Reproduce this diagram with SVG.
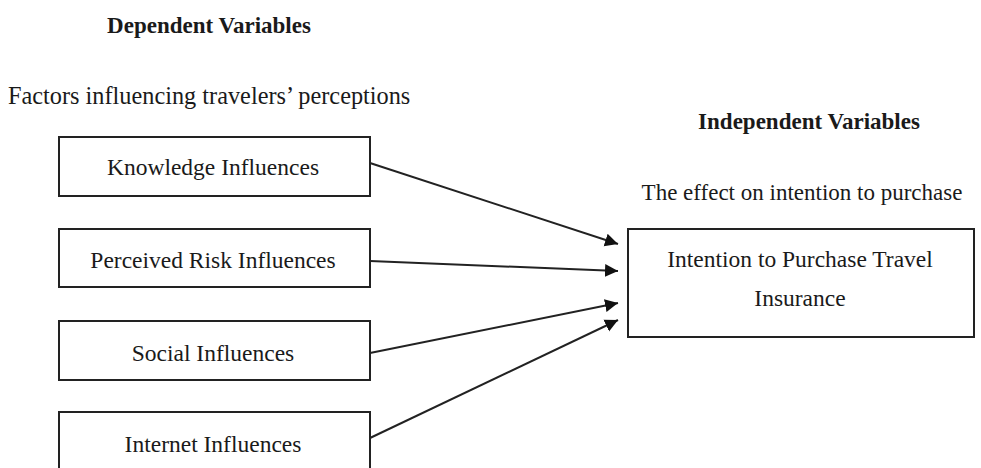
<svg xmlns="http://www.w3.org/2000/svg" width="981" height="468" viewBox="0 0 981 468">
<style>
  .box { fill: #ffffff; stroke: #222222; stroke-width: 2; }
  .t { font-family: "Liberation Serif", "Times New Roman", serif; font-size: 23.5px; fill: #1a1a1a; }
  .b { font-weight: bold; font-size: 23px; }
  .c { text-anchor: middle; }
  .conn { stroke: #222222; stroke-width: 2; fill: none; }
</style>
<defs>
  <marker id="arr" markerUnits="userSpaceOnUse" markerWidth="14" markerHeight="14" refX="13" refY="7" orient="auto">
    <path d="M0,0.5 L13,7 L0,13.5 Z" fill="#111111"/>
  </marker>
</defs>
<rect width="981" height="468" fill="#ffffff"/>
<g id="headers">
  <text class="t b c" x="209" y="33">Dependent Variables</text>
  <text class="t" x="8" y="104" style="font-size:24.3px">Factors influencing travelers’ perceptions</text>
  <text class="t b c" x="809" y="129">Independent Variables</text>
  <text class="t c" x="802" y="200" style="font-size:23px">The effect on intention to purchase</text>
</g>
<g id="connectors">
  <line class="conn" x1="370" y1="163" x2="618" y2="244" marker-end="url(#arr)"/>
  <line class="conn" x1="370" y1="261" x2="618" y2="271" marker-end="url(#arr)"/>
  <line class="conn" x1="370" y1="353" x2="618" y2="303" marker-end="url(#arr)"/>
  <line class="conn" x1="370" y1="438" x2="618" y2="320" marker-end="url(#arr)"/>
</g>
<g id="knowledge">
  <rect class="box" x="59" y="137" width="311" height="59"/>
  <text class="t c" x="213" y="175">Knowledge Influences</text>
</g>
<g id="risk">
  <rect class="box" x="59" y="229" width="311" height="58"/>
  <text class="t c" x="213" y="268">Perceived Risk Influences</text>
</g>
<g id="social">
  <rect class="box" x="59" y="321" width="311" height="59"/>
  <text class="t c" x="213" y="361">Social Influences</text>
</g>
<g id="internet">
  <rect class="box" x="59" y="412" width="311" height="70"/>
  <text class="t c" x="213" y="452">Internet Influences</text>
</g>
<g id="intention">
  <rect class="box" x="628" y="229" width="346" height="108"/>
  <text class="t c" x="800" y="267">Intention to Purchase Travel</text>
  <text class="t c" x="800" y="306">Insurance</text>
</g>
</svg>
